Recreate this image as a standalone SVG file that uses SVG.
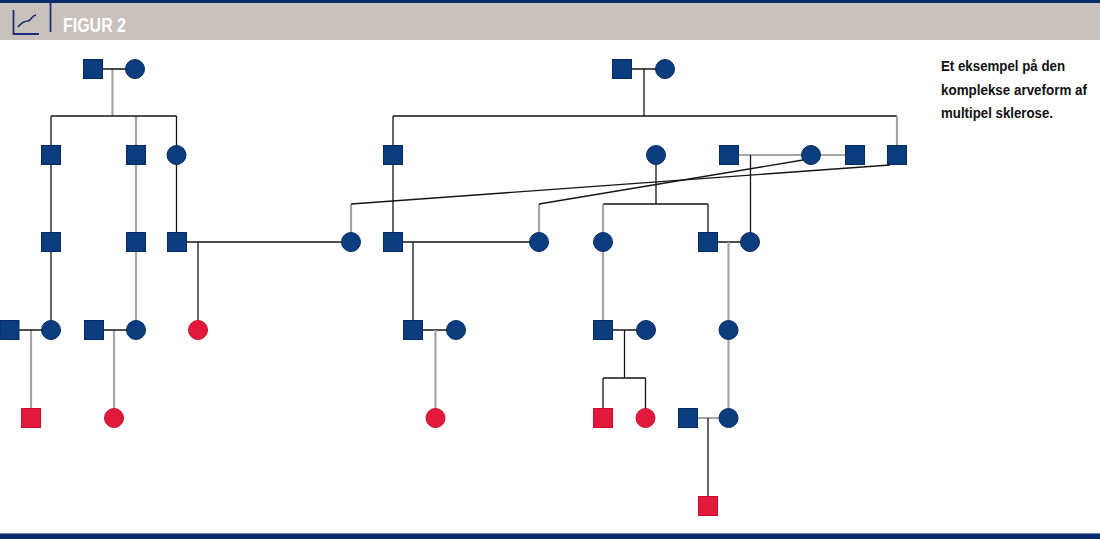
<svg xmlns="http://www.w3.org/2000/svg" width="1100" height="540" viewBox="0 0 1100 540">
<style>
.sq{fill:#0b3d7e;stroke:#062a63;stroke-width:1}
.ci{fill:#0b3d7e;stroke:#062a63;stroke-width:1}
.rsq{fill:#e3193b;stroke:#c8102e;stroke-width:1}
.rci{fill:#e3193b;stroke:#c8102e;stroke-width:1}
.k{stroke:#151515;stroke-width:1.3;fill:none}
.g{stroke:#a5a5a5;stroke-width:2.2;fill:none}
.cap{font-family:"Liberation Sans",Arial,sans-serif;font-weight:bold;font-size:14.5px;fill:#111}
</style>
<defs>
<rect id="S" x="-9.5" y="-9.5" width="19" height="19"/>
</defs>
<rect x="0" y="0" width="1100" height="540" fill="#ffffff"/>
<g id="header">
<rect x="0" y="3" width="1100" height="37" fill="#c9c1bc"/>
<rect x="0" y="0" width="1100" height="3" fill="#0a2a6e"/>
<path d="M13.5 10 V34 H39" fill="none" stroke="#1c2d7a" stroke-width="1.8"/>
<path d="M18 27 C22 22,25 21,28 21 C31 21,32 15,36 15" fill="none" stroke="#1c2d7a" stroke-width="1.7"/>
<line x1="50.5" y1="3" x2="50.5" y2="32" stroke="#1c2d7a" stroke-width="1.8"/>
<text x="63" y="31.5" font-family="Liberation Sans,Arial,sans-serif" font-weight="bold" font-size="20" fill="#ffffff" textLength="63" lengthAdjust="spacingAndGlyphs">FIGUR 2</text>
</g>
<g id="footer">
<rect x="0" y="533" width="1100" height="1" fill="#6a86b8"/>
<rect x="0" y="534" width="1100" height="5" fill="#0a2a6e"/>
</g>
<g id="caption">
<text class="cap" x="941" y="71" textLength="124" lengthAdjust="spacingAndGlyphs">Et eksempel på den</text>
<text class="cap" x="941" y="95" textLength="146" lengthAdjust="spacingAndGlyphs">komplekse arveform af</text>
<text class="cap" x="941" y="118" textLength="112" lengthAdjust="spacingAndGlyphs">multipel sklerose.</text>
</g>
<g id="connectors">
<path class="g" d="M112.5 69 V116"/>
<path class="g" d="M136 116 V330"/>
<path class="g" d="M31 330 V418"/>
<path class="g" d="M114 330 V418"/>
<path class="k" d="M93 69 H135"/>
<path class="k" d="M51 116 H176.5"/>
<path class="k" d="M51 116 V330"/>
<path class="k" d="M176.5 116 V242"/>
<path class="k" d="M177 242 H351"/>
<path class="k" d="M198 242 V330"/>
<path class="k" d="M9.5 330 H51"/>
<path class="k" d="M94 330 H136"/>
<path class="k" d="M622 69 H665"/>
<path class="k" d="M644 69 V116"/>
<path class="k" d="M393 116 H897"/>
<path class="g" d="M897 116 V155"/>
<path class="k" d="M393 116 V242"/>
<path class="k" d="M393 242 H539"/>
<path class="k" d="M413 242 V330"/>
<path class="k" d="M413 330 H456"/>
<path class="g" d="M435.5 330 V418"/>
<path class="g" d="M351 242 V204"/>
<path class="k" d="M351 204 L890 165"/>
<path class="g" d="M539 242 V204"/>
<path class="k" d="M539 204 L803 160"/>
<path class="g" d="M729 155 H855"/>
<path class="k" d="M750.5 155 V242"/>
<path class="k" d="M656 155 V204"/>
<path class="k" d="M603 204 H708"/>
<path class="k" d="M708 204 V242"/>
<path class="g" d="M603 204 V330"/>
<path class="k" d="M708 242 H750"/>
<path class="g" d="M728.5 242 V418"/>
<path class="k" d="M603 330 H646"/>
<path class="k" d="M624.5 330 V378"/>
<path class="k" d="M603 378 H645.5"/>
<path class="k" d="M603 378 V418"/>
<path class="k" d="M645.5 378 V418"/>
<path class="g" d="M688 418 H728.5"/>
<path class="k" d="M708 418 V506"/>
</g>
<g id="n1"><use href="#S" class="sq" x="93" y="69"/></g>
<g id="n2"><circle class="ci" cx="135" cy="69" r="9.5"/></g>
<g id="n3"><use href="#S" class="sq" x="51" y="155"/></g>
<g id="n4"><use href="#S" class="sq" x="136" y="155"/></g>
<g id="n5"><circle class="ci" cx="176.5" cy="155" r="9.5"/></g>
<g id="n6"><use href="#S" class="sq" x="51" y="242"/></g>
<g id="n7"><use href="#S" class="sq" x="136" y="242"/></g>
<g id="n8"><use href="#S" class="sq" x="177" y="242"/></g>
<g id="n9"><circle class="ci" cx="351" cy="242" r="9.5"/></g>
<g id="n10"><use href="#S" class="sq" x="9.5" y="330"/></g>
<g id="n11"><circle class="ci" cx="51" cy="330" r="9.5"/></g>
<g id="n12"><use href="#S" class="sq" x="94" y="330"/></g>
<g id="n13"><circle class="ci" cx="136" cy="330" r="9.5"/></g>
<g id="n14"><circle class="rci" cx="198" cy="330" r="9.5"/></g>
<g id="n15"><use href="#S" class="rsq" x="31" y="418"/></g>
<g id="n16"><circle class="rci" cx="114" cy="418" r="9.5"/></g>
<g id="n17"><use href="#S" class="sq" x="622" y="69"/></g>
<g id="n18"><circle class="ci" cx="665" cy="69" r="9.5"/></g>
<g id="n19"><use href="#S" class="sq" x="393" y="155"/></g>
<g id="n20"><circle class="ci" cx="656" cy="155" r="9.5"/></g>
<g id="n21"><use href="#S" class="sq" x="729" y="155"/></g>
<g id="n22"><circle class="ci" cx="811" cy="155" r="9.5"/></g>
<g id="n23"><use href="#S" class="sq" x="855" y="155"/></g>
<g id="n24"><use href="#S" class="sq" x="897" y="155"/></g>
<g id="n25"><use href="#S" class="sq" x="393" y="242"/></g>
<g id="n26"><circle class="ci" cx="539" cy="242" r="9.5"/></g>
<g id="n27"><circle class="ci" cx="603" cy="242" r="9.5"/></g>
<g id="n28"><use href="#S" class="sq" x="708" y="242"/></g>
<g id="n29"><circle class="ci" cx="750" cy="242" r="9.5"/></g>
<g id="n30"><use href="#S" class="sq" x="413" y="330"/></g>
<g id="n31"><circle class="ci" cx="456" cy="330" r="9.5"/></g>
<g id="n32"><use href="#S" class="sq" x="603" y="330"/></g>
<g id="n33"><circle class="ci" cx="646" cy="330" r="9.5"/></g>
<g id="n34"><circle class="ci" cx="728.5" cy="330" r="9.5"/></g>
<g id="n35"><circle class="rci" cx="435.5" cy="418" r="9.5"/></g>
<g id="n36"><use href="#S" class="rsq" x="603" y="418"/></g>
<g id="n37"><circle class="rci" cx="645.5" cy="418" r="9.5"/></g>
<g id="n38"><use href="#S" class="sq" x="688" y="418"/></g>
<g id="n39"><circle class="ci" cx="728.5" cy="418" r="9.5"/></g>
<g id="n40"><use href="#S" class="rsq" x="708" y="506"/></g>
</svg>
